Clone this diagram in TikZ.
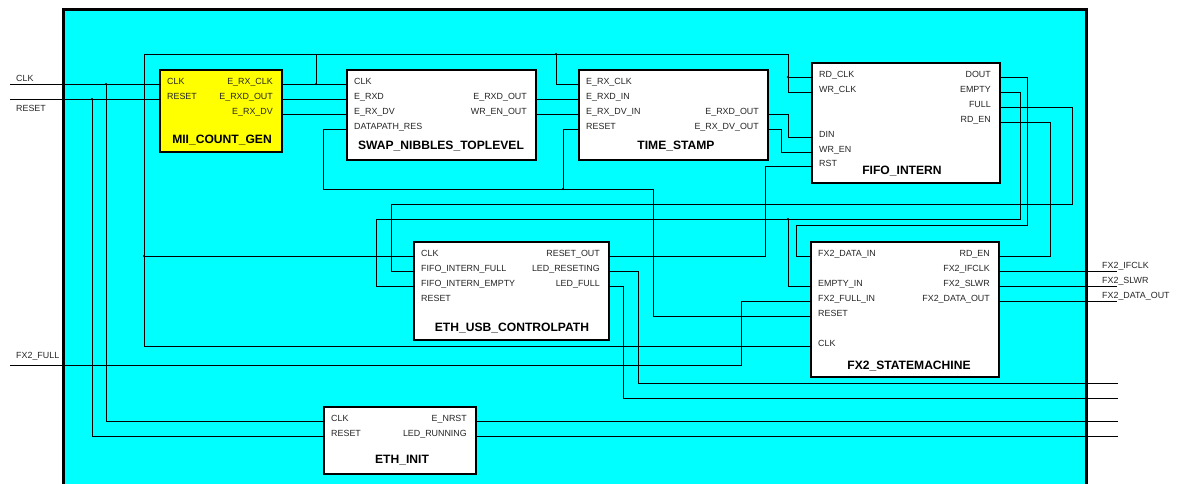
\documentclass[tikz,border=0pt]{standalone}
\usepackage{fontspec}
\setmainfont{Liberation Sans}
\definecolor{bgcyan}{RGB}{0,255,255}
\definecolor{blkyellow}{RGB}{255,255,0}
\newcommand{\pinfnt}{\fontsize{8.9}{10}\selectfont}
\newcommand{\ttlfnt}{\fontsize{12.1}{14}\selectfont\bfseries}
\begin{document}
\begin{tikzpicture}[x=1pt,y=-1pt,
  blk/.style={draw=black, line width=1.6, fill=white, anchor=north west, inner sep=0},
  wire/.style={draw=black, line width=0.9},
  pinl/.style={anchor=base west, inner sep=0, font=\pinfnt, text=black!85},
  pinr/.style={anchor=base east, inner sep=0, font=\pinfnt, text=black!85},
  ttl/.style={anchor=base, inner sep=0, font=\ttlfnt, text=black},
  dot/.style={circle, fill=black, inner sep=0, minimum size=2.2}]
\useasboundingbox (0,0) rectangle (1179,483);
\begin{scope}
\clip (0,0) rectangle (1179,483);
\draw[line width=3, fill=bgcyan] (63.5,9.5) rectangle (1086.5,500);
\end{scope}

% ---------- pin coordinates ----------
\coordinate (mii-l1) at (159,84);  \coordinate (mii-l2) at (159,99);
\coordinate (mii-r1) at (281,84);  \coordinate (mii-r2) at (281,99);  \coordinate (mii-r3) at (281,114);
\coordinate (sw-l1) at (346,84); \coordinate (sw-l2) at (346,99); \coordinate (sw-l3) at (346,114); \coordinate (sw-l4) at (346,129);
\coordinate (sw-r2) at (535,99); \coordinate (sw-r3) at (535,114);
\coordinate (ts-l1) at (578,84); \coordinate (ts-l2) at (578,99); \coordinate (ts-l3) at (578,114); \coordinate (ts-l4) at (578,129);
\coordinate (ts-r3) at (767,114); \coordinate (ts-r4) at (767,129);
\coordinate (ff-l1) at (811,77); \coordinate (ff-l2) at (811,92); \coordinate (ff-l5) at (811,137); \coordinate (ff-l6) at (811,152); \coordinate (ff-l7) at (811,166);
\coordinate (ff-r1) at (999,77); \coordinate (ff-r2) at (999,92); \coordinate (ff-r3) at (999,107); \coordinate (ff-r4) at (999,122);
\coordinate (ct-l1) at (413,256); \coordinate (ct-l2) at (413,271); \coordinate (ct-l3) at (413,286);
\coordinate (ct-r1) at (608,256); \coordinate (ct-r2) at (608,271); \coordinate (ct-r3) at (608,286);
\coordinate (fx-l1) at (810,256); \coordinate (fx-l3) at (810,286); \coordinate (fx-l4) at (810,301); \coordinate (fx-l5) at (810,316); \coordinate (fx-l7) at (810,346);
\coordinate (fx-r1) at (998,256); \coordinate (fx-r2) at (998,271); \coordinate (fx-r3) at (998,286); \coordinate (fx-r4) at (998,301);
\coordinate (in-l1) at (323,421); \coordinate (in-l2) at (323,436);
\coordinate (in-r1) at (475,421); \coordinate (in-r2) at (475,436);
% external ends
\coordinate (x-clk) at (10,84); \coordinate (x-rst) at (10,99); \coordinate (x-full) at (10,365);
\coordinate (x-ifclk) at (1117,271); \coordinate (x-slwr) at (1117,286); \coordinate (x-dout) at (1117,301);
\coordinate (x-led1) at (1118,383); \coordinate (x-led2) at (1118,398);
\coordinate (x-nrst) at (1118,421); \coordinate (x-run) at (1118,436);
% junctions
\coordinate (j-clk) at (106,84); \coordinate (j-rst) at (92,99);
\coordinate (j-rx) at (316,84); \coordinate (j-top) at (556,54); \coordinate (j-ctl) at (144,256);
\coordinate (j-res) at (563,189); \coordinate (j-ff) at (788,77); \coordinate (j-emp) at (788,219);

% ---------- wires ----------
\draw[wire] (x-clk) -- (mii-l1);
\draw[wire] (x-rst) -- (mii-l2);
\draw[wire] (j-clk) -- (106,421) -- (in-l1);
\draw[wire] (j-rst) -- (92,436) -- (in-l2);
% E_RX_CLK net
\draw[wire] (mii-r1) -- (sw-l1);
\draw[wire] (j-rx) -- (316,54);
\draw[wire] (144,54) -- (788,54) -- (788,92) -- (ff-l2);
\draw[wire] (j-ff) -- (ff-l1);
\draw[wire] (j-top) -- (556,84) -- (ts-l1);
\draw[wire] (144,54) -- (144,346) -- (fx-l7);
\draw[wire] (j-ctl) -- (ct-l1);
% data path
\draw[wire] (mii-r2) -- (sw-l2);
\draw[wire] (mii-r3) -- (sw-l3);
\draw[wire] (sw-r2) -- (ts-l2);
\draw[wire] (sw-r3) -- (ts-l3);
% reset net
\draw[wire] (sw-l4) -- (323,129) -- (323,189) -- (653,189) -- (653,316) -- (fx-l5);
\draw[wire] (ts-l4) -- (563,129) -- (j-res);
% time stamp -> fifo
\draw[wire] (ts-r3) -- (788,114) -- (788,137) -- (ff-l5);
\draw[wire] (ts-r4) -- (781,129) -- (781,152) -- (ff-l6);
\draw[wire] (ct-r1) -- (765,256) -- (765,166) -- (ff-l7);
% fifo outputs
\draw[wire] (ff-r1) -- (1027,77) -- (1027,225) -- (796,225) -- (796,256) -- (fx-l1);
\draw[wire] (ff-r2) -- (1020,92) -- (1020,219) -- (376,219) -- (376,286) -- (ct-l3);
\draw[wire] (j-emp) -- (788,286) -- (fx-l3);
\draw[wire] (ff-r3) -- (1072,107) -- (1072,204) -- (391,204) -- (391,271) -- (ct-l2);
\draw[wire] (ff-r4) -- (1050,122) -- (1050,256) -- (fx-r1);
% FX2_FULL
\draw[wire] (x-full) -- (741,365) -- (741,301) -- (fx-l4);
% controlpath LEDs
\draw[wire] (ct-r2) -- (638,271) -- (638,383) -- (x-led1);
\draw[wire] (ct-r3) -- (623,286) -- (623,398) -- (x-led2);
% fx2 outputs
\draw[wire] (fx-r2) -- (x-ifclk);
\draw[wire] (fx-r3) -- (x-slwr);
\draw[wire] (fx-r4) -- (x-dout);
% eth_init outputs
\draw[wire] (in-r1) -- (x-nrst);
\draw[wire] (in-r2) -- (x-run);

% junction dots
\foreach \j in {j-clk,j-rst,j-rx,j-top,j-ctl,j-res,j-ff,j-emp} \node[dot] at (\j) {};

% external labels
\node[pinl] (t-clk) at (16,81) {CLK};
\node[pinl] (t-rst) at (16,111) {RESET};
\node[pinl] (t-full) at (16,358) {FX2\_FULL};
\node[pinl] (t-ifclk) at (1102,268) {FX2\_IFCLK};
\node[pinl] (t-slwr) at (1102,283) {FX2\_SLWR};
\node[pinl] (t-dout) at (1102,298) {FX2\_DATA\_OUT};

% ---------- blocks ----------
% MII_COUNT_GEN
\node[blk, fill=blkyellow, minimum width=122, minimum height=82] (mii) at (159,69) {};
\node[pinl] (mii-a) at (167,84.5) {CLK};
\node[pinl] (mii-b) at (167,99.5) {RESET};
\node[pinr] (mii-c) at (273,84.5) {E\_RX\_CLK};
\node[pinr] (mii-d) at (273,99.5) {E\_RXD\_OUT};
\node[pinr] (mii-e) at (273,114.5) {E\_RX\_DV};
\node[ttl] (mii-t) at (222,143) {MII\_COUNT\_GEN};

% SWAP_NIBBLES_TOPLEVEL
\node[blk, minimum width=189, minimum height=90] (sw) at (346,69) {};
\node[pinl] (sw-a) at (354,84.5) {CLK};
\node[pinl] (sw-b) at (354,99.5) {E\_RXD};
\node[pinl] (sw-c) at (354,114.5) {E\_RX\_DV};
\node[pinl] (sw-d) at (354,129.5) {DATAPATH\_RES};
\node[pinr] (sw-e) at (527,99.5) {E\_RXD\_OUT};
\node[pinr] (sw-f) at (527,114.5) {WR\_EN\_OUT};
\node[ttl] (sw-t) at (441,149) {SWAP\_NIBBLES\_TOPLEVEL};

% TIME_STAMP
\node[blk, minimum width=189, minimum height=90] (ts) at (578,69) {};
\node[pinl] (ts-a) at (586,84.5) {E\_RX\_CLK};
\node[pinl] (ts-b) at (586,99.5) {E\_RXD\_IN};
\node[pinl] (ts-c) at (586,114.5) {E\_RX\_DV\_IN};
\node[pinl] (ts-d) at (586,129.5) {RESET};
\node[pinr] (ts-e) at (759,114.5) {E\_RXD\_OUT};
\node[pinr] (ts-f) at (759,129.5) {E\_RX\_DV\_OUT};
\node[ttl] (ts-t) at (676,149) {TIME\_STAMP};

% FIFO_INTERN
\node[blk, minimum width=188, minimum height=120] (ff) at (811,62) {};
\node[pinl] (ff-a) at (819,77.5) {RD\_CLK};
\node[pinl] (ff-b) at (819,92.5) {WR\_CLK};
\node[pinl] (ff-c) at (819,137.5) {DIN};
\node[pinl] (ff-d) at (819,152) {WR\_EN};
\node[pinl] (ff-e) at (819,166.5) {RST};
\node[pinr] (ff-f) at (991,77.5) {DOUT};
\node[pinr] (ff-g) at (991,92.5) {EMPTY};
\node[pinr] (ff-h) at (991,107.5) {FULL};
\node[pinr] (ff-i) at (991,122.5) {RD\_EN};
\node[ttl] (ff-t) at (902,174) {FIFO\_INTERN};

% ETH_USB_CONTROLPATH
\node[blk, minimum width=195, minimum height=98] (ct) at (413,241) {};
\node[pinl] (ct-a) at (421,256.5) {CLK};
\node[pinl] (ct-b) at (421,271.5) {FIFO\_INTERN\_FULL};
\node[pinl] (ct-c) at (421,286.5) {FIFO\_INTERN\_EMPTY};
\node[pinl] (ct-d) at (421,301.5) {RESET};
\node[pinr] (ct-e) at (600,256.5) {RESET\_OUT};
\node[pinr] (ct-f) at (600,271.5) {LED\_RESETING};
\node[pinr] (ct-g) at (600,286.5) {LED\_FULL};
\node[ttl] (ct-t) at (512,331) {ETH\_USB\_CONTROLPATH};

% FX2_STATEMACHINE
\node[blk, minimum width=188, minimum height=135] (fx) at (810,241) {};
\node[pinl] (fx-a) at (818,256.5) {FX2\_DATA\_IN};
\node[pinl] (fx-b) at (818,286.5) {EMPTY\_IN};
\node[pinl] (fx-c) at (818,301.5) {FX2\_FULL\_IN};
\node[pinl] (fx-d) at (818,316.5) {RESET};
\node[pinl] (fx-e) at (818,346.5) {CLK};
\node[pinr] (fx-f) at (990,256.5) {RD\_EN};
\node[pinr] (fx-g) at (990,271.5) {FX2\_IFCLK};
\node[pinr] (fx-h) at (990,286.5) {FX2\_SLWR};
\node[pinr] (fx-i) at (990,301.5) {FX2\_DATA\_OUT};
\node[ttl] (fx-t) at (909,369) {FX2\_STATEMACHINE};

% ETH_INIT
\node[blk, minimum width=152, minimum height=67] (in) at (323,406) {};
\node[pinl] (in-a) at (331,421) {CLK};
\node[pinl] (in-b) at (331,436) {RESET};
\node[pinr] (in-c) at (467,421) {E\_NRST};
\node[pinr] (in-d) at (467,436) {LED\_RUNNING};
\node[ttl] (in-t) at (402,463) {ETH\_INIT};
\end{tikzpicture}
\end{document}
